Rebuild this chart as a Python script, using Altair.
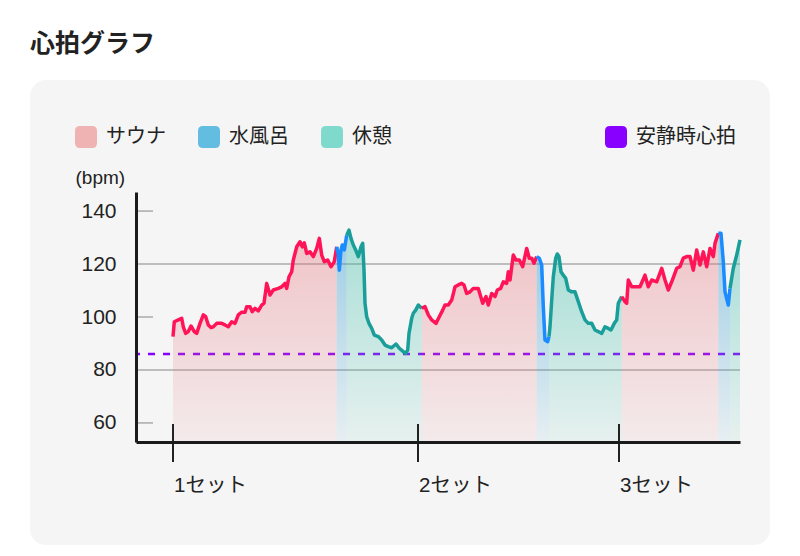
import altair as alt
import pandas as pd

TITLE = "心拍グラフ"
PHASES = ["サウナ", "水風呂", "休憩"]
LEGEND_COLORS = ["#f0b3b3", "#62bde0", "#80d9cd"]
LINE_COLORS = ["#ff1458", "#1a8cff", "#1a9e9a"]
AREA_RGB = ["230,110,120", "60,160,210", "60,190,170"]
AREA_TOP_ALPHA = [0.36, 0.47, 0.42]
RESTING_LABEL = "安静時心拍"
RESTING_COLOR = "#8800ff"
RESTING_HR = 86
Y_TICKS = [60, 80, 100, 120, 140]
GRID_VALUES = [80, 120]
SHORT_TICK_VALUES = [60, 100, 140]
SET_LABELS = ["1セット", "2セット", "3セット"]
SET_START = [0.0, 24.5, 44.6]
X_DOMAIN = [-3.7, 56.7]
Y_DOMAIN = [52.8, 147.2]

# (minutes, bpm)
SAUNA_1 = [(0.00, 92.6), (0.13, 98.2), (0.53, 98.9), (0.87, 99.5), (1.03, 96.3), (1.27, 93.8),
           (1.53, 94.5), (1.80, 96.6), (2.13, 94.5), (2.37, 93.8), (2.70, 97.6), (3.03, 100.8),
           (3.27, 100.1), (3.53, 97.0), (3.80, 96.0), (4.03, 96.3), (4.37, 97.6), (4.87, 97.6),
           (5.20, 97.0), (5.53, 96.3), (5.87, 98.2), (6.20, 97.6), (6.53, 100.8), (6.87, 101.8),
           (7.20, 101.8), (7.37, 103.9), (7.70, 103.9), (7.93, 102.0), (8.20, 103.3), (8.53, 102.3),
           (8.87, 104.5), (9.10, 105.2), (9.37, 112.7), (9.70, 108.3), (10.03, 110.2), (10.53, 110.8),
           (10.87, 111.4), (11.20, 112.7), (11.37, 110.8), (11.60, 115.2), (11.87, 117.1), (12.03, 121.5),
           (12.37, 126.5), (12.70, 128.4), (12.93, 126.5), (13.13, 128.0), (13.37, 124.0), (13.70, 124.6),
           (14.03, 122.8), (14.37, 125.9), (14.63, 129.7), (14.87, 123.4), (15.13, 120.9), (15.47, 121.5),
           (15.80, 119.0), (16.13, 120.9)]
COLD_1 = [(16.37, 126.5), (16.53, 123.4), (16.63, 117.7), (16.80, 125.3), (16.93, 127.2), (17.13, 125.3)]
REST_1 = [(17.37, 130.9), (17.60, 132.8), (17.80, 129.7), (18.03, 127.2), (18.27, 125.3), (18.53, 122.8),
          (18.80, 126.5), (18.97, 127.8), (19.10, 117.7), (19.20, 105.2), (19.37, 100.1), (19.60, 97.6),
          (19.87, 95.7), (20.13, 93.2), (20.53, 92.6), (20.87, 91.3), (21.20, 89.4), (21.53, 88.8),
          (21.87, 88.4), (22.30, 89.8), (22.63, 88.2), (23.03, 86.9), (23.27, 86.3), (23.47, 87.5),
          (23.60, 93.8), (23.87, 99.5), (24.03, 101.4), (24.27, 102.6), (24.53, 104.5)]
SAUNA_2 = [(24.87, 103.3), (25.20, 103.9), (25.53, 100.8), (25.87, 98.9), (26.30, 97.6), (26.63, 100.1),
           (26.97, 102.6), (27.20, 104.5), (27.53, 104.5), (27.87, 106.4), (28.20, 111.4), (28.53, 112.1),
           (28.87, 112.7), (29.10, 112.1), (29.37, 108.9), (29.70, 109.5), (30.03, 110.8), (30.53, 110.8),
           (30.77, 107.7), (30.97, 105.2), (31.30, 107.7), (31.53, 104.5), (31.87, 108.9), (32.20, 107.7),
           (32.43, 110.2), (32.77, 110.8), (33.03, 113.3), (33.37, 112.7), (33.53, 117.1), (33.70, 114.0),
           (34.03, 123.4), (34.30, 121.5), (34.63, 121.5), (34.97, 119.0), (35.37, 125.9), (35.63, 122.2),
           (35.87, 122.2), (36.10, 120.3)]
COLD_2 = [(36.37, 122.8), (36.63, 122.2), (36.87, 119.6), (37.03, 103.9), (37.20, 91.3), (37.47, 90.7)]
REST_2 = [(37.60, 92.6), (37.70, 96.3), (37.87, 106.4), (38.03, 115.2), (38.27, 122.2), (38.43, 123.8),
          (38.60, 122.8), (38.80, 117.1), (39.03, 115.8), (39.27, 114.6), (39.53, 110.2), (39.87, 109.5),
          (40.20, 109.5), (40.53, 105.8), (40.87, 102.0), (41.20, 98.9), (41.53, 97.6), (41.87, 97.6),
          (42.20, 95.1), (42.53, 94.5), (42.87, 93.8), (43.20, 96.3), (43.53, 95.7), (43.80, 95.1),
          (44.13, 97.6), (44.37, 98.9), (44.53, 105.2)]
SAUNA_3 = [(44.87, 107.7), (45.20, 105.8), (45.37, 105.2), (45.53, 114.0), (45.87, 111.4), (46.37, 111.4),
           (46.70, 111.4), (47.20, 115.8), (47.53, 111.4), (47.87, 114.0), (48.37, 113.3), (48.87, 118.4),
           (49.20, 114.0), (49.53, 110.2), (49.87, 113.3), (50.37, 118.4), (50.70, 119.0), (51.03, 122.2),
           (51.37, 122.8), (51.70, 122.8), (52.03, 117.7), (52.37, 125.3), (52.70, 119.6), (53.03, 124.6),
           (53.37, 119.0), (53.70, 125.9), (54.03, 122.8), (54.20, 127.8)]
COLD_3 = [(54.53, 131.6), (54.80, 131.6), (55.03, 120.9), (55.20, 109.5), (55.53, 104.5)]
REST_3 = [(55.70, 110.8), (56.03, 118.4), (56.37, 123.4), (56.70, 129.1)]

SEGMENTS = [(PHASES[0], SAUNA_1), (PHASES[1], COLD_1), (PHASES[2], REST_1),
            (PHASES[0], SAUNA_2), (PHASES[1], COLD_2), (PHASES[2], REST_2),
            (PHASES[0], SAUNA_3), (PHASES[1], COLD_3), (PHASES[2], REST_3)]

rows = []
for i, (phase, pts) in enumerate(SEGMENTS):
    ext = list(pts)
    if i + 1 < len(SEGMENTS):
        ext.append(SEGMENTS[i + 1][1][0])
    for t, b in ext:
        rows.append({"t": t, "bpm": b, "phase": phase, "seg": i})
df = pd.DataFrame(rows)

W, H = 604, 250
FONT = "'Liberation Sans', 'Noto Sans CJK JP', sans-serif"

xs = alt.Scale(domain=X_DOMAIN, nice=False, zero=False)
ys = alt.Scale(domain=Y_DOMAIN, nice=False, zero=False)
X_AX = alt.Axis(labels=False, ticks=False, grid=False, domainColor="#1a1a1a", domainWidth=3,
                title=None, zindex=1)
Y_AX = alt.Axis(values=Y_TICKS, ticks=False, grid=False, domainColor="#1a1a1a", domainWidth=3,
                labelFontSize=21, labelColor="#222222", labelPadding=20, labelFont=FONT,
                title="(bpm)", titleAngle=0, titleX=-61, titleY=-15, titleAlign="left",
                titleBaseline="middle", titleFontSize=19, titleFontWeight="normal",
                titleColor="#222222", titleFont=FONT, zindex=1)


def X(field):
    return alt.X(field, type="quantitative", scale=xs, axis=X_AX)


def Y(field):
    return alt.Y(field, type="quantitative", scale=ys, axis=Y_AX, stack=None)


one = pd.DataFrame({"k": [0]})

card = alt.Chart(one).mark_rect(fill="#f5f5f5", cornerRadius=16).encode(
    x=alt.value(-106), x2=alt.value(634), y=alt.value(-112), y2=alt.value(353))

title = alt.Chart(one).mark_text(text=TITLE, align="left", baseline="middle", fontSize=25,
                                 fontWeight="bold", color="#222222", font=FONT).encode(
    x=alt.value(-106), y=alt.value(-148))

grid = alt.Chart(pd.DataFrame({"v": GRID_VALUES})).mark_rule(color="#aaaaaa", strokeWidth=1.5).encode(
    y=Y("v"))

short_ticks = alt.Chart(pd.DataFrame({"v": SHORT_TICK_VALUES})).mark_rule(
    color="#aaaaaa", strokeWidth=1.5).encode(y=Y("v"), x=alt.value(0), x2=alt.value(17))

resting = alt.Chart(pd.DataFrame({"v": [RESTING_HR]})).mark_rule(
    color=RESTING_COLOR, strokeDash=[7, 8], strokeWidth=2.5).encode(y=Y("v"))

areas = []
for i, ph in enumerate(PHASES):
    grad = alt.Gradient(
        gradient="linear",
        stops=[alt.GradientStop(color=f"rgba({AREA_RGB[i]},{AREA_TOP_ALPHA[i]})", offset=0),
               alt.GradientStop(color=f"rgba({AREA_RGB[i]},0.08)", offset=1)],
        x1=1, x2=1, y1=0, y2=1)
    areas.append(
        alt.Chart(df).transform_filter(alt.datum.phase == ph).mark_area(color=grad).encode(
            x=X("t"), y=Y("bpm"), detail="seg:N"))

lines = alt.Chart(df).mark_line(strokeWidth=3.5, strokeJoin="round").encode(
    x=X("t"), y=Y("bpm"),
    color=alt.Color("phase:N", scale=alt.Scale(domain=PHASES, range=LINE_COLORS), legend=None),
    detail="seg:N")

sets_df = pd.DataFrame({"t": SET_START, "label": SET_LABELS})
set_ticks = alt.Chart(sets_df).mark_rule(color="#222222", strokeWidth=2).encode(
    x=X("t"), y=alt.value(H - 18), y2=alt.value(H + 20))
set_labels = alt.Chart(sets_df).mark_text(align="left", baseline="middle", fontSize=20.5, dx=1,
                                          color="#222222", font=FONT).encode(
    x=X("t"), y=alt.value(H + 44), text="label:N")

RSQ = "M-1,-0.55Q-1,-1,-0.55,-1L0.55,-1Q1,-1,1,-0.55L1,0.55Q1,1,0.55,1L-0.55,1Q-1,1,-1,0.55Z"


def legend(x):
    return alt.Legend(title=None, orient="none", direction="horizontal", legendX=x, legendY=-66,
                      symbolType=RSQ, symbolSize=484, symbolStrokeWidth=0, symbolOpacity=1,
                      labelFontSize=20, labelOffset=9, columnPadding=32, labelColor="#222222",
                      labelFont=FONT, padding=0)


leg1 = alt.Chart(pd.DataFrame({"phase": PHASES})).transform_filter("false").mark_point(
    filled=True, opacity=1).encode(
    fill=alt.Fill("phase:N", scale=alt.Scale(domain=PHASES, range=LEGEND_COLORS), legend=legend(-61)))

leg2 = alt.Chart(pd.DataFrame({"name": [RESTING_LABEL]})).transform_filter("false").mark_point(
    filled=True, opacity=1).encode(
    fill=alt.Fill("name:N", scale=alt.Scale(domain=[RESTING_LABEL], range=[RESTING_COLOR]),
                  legend=legend(469)))

chart = alt.layer(card, title, grid, short_ticks, resting, *areas, lines, set_ticks, set_labels,
                  leg1, leg2).resolve_scale(fill="independent").properties(
    width=W, height=H,
    padding={"left": 136, "top": 192, "right": 60, "bottom": 114},
    autosize=alt.AutoSizeParams(type="none"),
    background="white",
).configure_view(stroke=None).configure(font=FONT)

chart.save("out.html", embed_options={"renderer": "svg", "actions": False})
